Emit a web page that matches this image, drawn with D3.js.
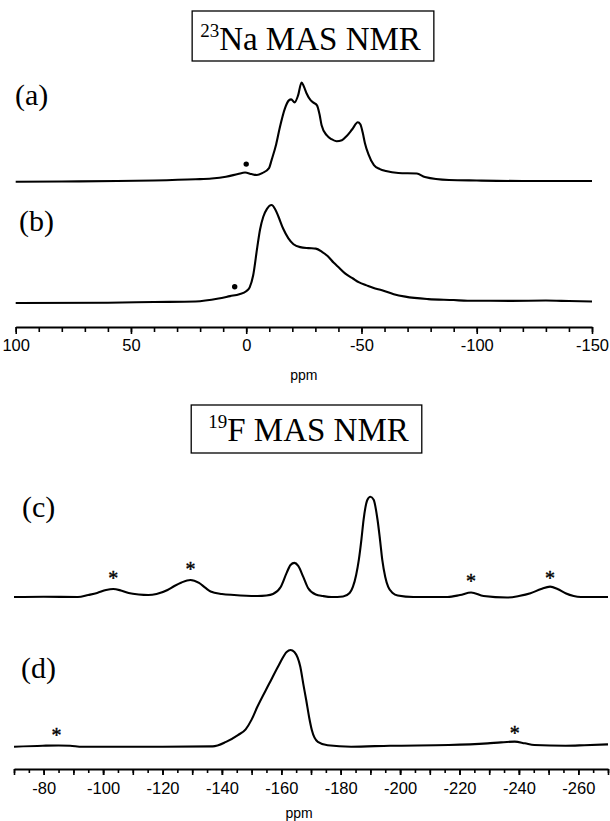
<!DOCTYPE html>
<html><head><meta charset="utf-8">
<script src="https://cdn.jsdelivr.net/npm/d3@7/dist/d3.min.js"></script>
<style>
html,body{margin:0;padding:0;background:#fff;}
svg{display:block;}
</style></head>
<body>
<svg id="chart" width="610" height="821"></svg>
<script>
// ---------- DATA ----------
// 23Na spectra: [ppm, relative intensity]
const spectrumA = [
 [100,0.3],[80,0.5],[56,1],[40,1.5],[22,2.7],[15,3.5],[8.8,5.3],[3.6,8],[0.5,9.5],[-2.3,8],[-4.6,7],
 [-7,9],[-9.9,14],[-11,22],[-13,38],[-14.6,55],[-16.8,74],[-18.5,82],[-19.5,83],[-21,80],[-22.5,87],
 [-24,100],[-25,96],[-26.2,89],[-28,82],[-29,80],[-30.7,77],[-31.8,68],[-32.7,57],[-34.9,47],[-37,43],
 [-39.2,41],[-41.5,42],[-43.5,46],[-46,53],[-48.4,60],[-49.5,58],[-50.5,50],[-51.5,39],[-53,28],
 [-55.4,17],[-58,13],[-60.6,11],[-66,9],[-74,8.5],[-77.5,5],[-88,2],[-100,1.5],[-120,1],[-150,1]
];
const spectrumB = [
 [100,0],[60,0.3],[40,1],[22,1.5],[12,4.5],[7,7],[3,9],[0,12],[-1.5,16],[-3,28],[-4.8,57],[-6,75],
 [-7.4,88],[-9,96],[-11,100],[-12.5,96],[-14,88],[-16,76],[-18.3,66],[-20.5,60],[-23.4,57],[-27,56],
 [-30.2,55.5],[-33,52],[-35.3,48],[-38,41],[-40.3,36],[-43,30],[-46.3,25],[-49,21],[-52.2,18],
 [-55,15.5],[-58.9,13],[-64,9],[-69,6.5],[-79,4],[-90,3],[-96,2.3],[-115,2.2],[-130,2.5],[-140,2],[-150,1.5]
];
// 19F spectra: [ppm, relative intensity]
const spectrumC = [
 [-70,0],[-80,0.3],[-91.5,0],[-95,2],[-98,4],[-101,7],[-103.4,8],[-106,6.5],[-108.6,4],[-112,2.5],
 [-115.2,2],[-118,3],[-121.7,7],[-124,11],[-126.4,14.5],[-129.4,17],[-132.3,14],[-134.5,9],[-136.2,5.5],
 [-140,3],[-144.1,2],[-152,1],[-155,1.5],[-157.2,3],[-159.8,10],[-161.8,24],[-163.1,32],[-164.4,34],
 [-165.7,31],[-167.4,20],[-169,9],[-171.6,2.5],[-174,1],[-176.9,0],[-180.8,0.5],[-183,4],[-184.1,10],
 [-185.2,22],[-186.1,37],[-187,58],[-187.7,77],[-189,97],[-190,100],[-191.1,97],[-192.4,77],[-193.2,58],
 [-194,37],[-195,20],[-196,10],[-197.5,4],[-199.2,1.5],[-204.5,0],[-216,0],[-220.2,2],[-223.9,4.5],
 [-228.1,1],[-236,-0.5],[-240,1],[-243.9,3.7],[-247.5,8],[-250.5,10.3],[-253,8],[-255.7,3.7],[-260.9,0],[-270,0]
];
const spectrumD = [
 [-70,0],[-79.7,1],[-85,1.3],[-88.9,1],[-93,0],[-105,0],[-120,0],[-136.9,0.3],[-141.4,5],[-145.4,12],
 [-148,18],[-150,28],[-151.9,41],[-155.9,65],[-159.2,84.5],[-161.8,98],[-163.1,100],[-164.4,98],
 [-165.5,92],[-166.4,82.7],[-167.4,65],[-168.4,48],[-169.4,30],[-170.3,17],[-172.3,5],[-175.6,1.5],
 [-183.5,0],[-196.6,1],[-216.4,1.7],[-229.5,3.4],[-234,4.5],[-238.6,5.2],[-242,3.5],[-245.2,1.7],
 [-255.7,1],[-262,1.5],[-270,2.4]
];
// markers [ppm, intensity]
const dotsA = [[0,18]];
const dotsB = [[5,16.6]];
const starsC = [[-103.4,22],[-129.4,31],[-223.9,19],[-250.5,22]];
const starsD = [[-84.3,15.5],[-238.6,17]];
// axis ticks
const naMinorTicks = d3.range(100, -151, -10);
const naLabelTicks = [100, 50, 0, -50, -100, -150];
const fMinorTicks = d3.range(-70, -271, -5);
const fMajorTicks = d3.range(-70, -271, -10);
const fLabelTicks = [-80, -100, -120, -140, -160, -180, -200, -220, -240, -260];
const panelLabels = ["(a)", "(b)", "(c)", "(d)"];
const titles = [{sup:"23", main:"Na MAS NMR"}, {sup:"19", main:"F MAS NMR"}];

// ---------- LAYOUT ----------
const svg = d3.select("#chart");
svg.append("rect").attr("width",610).attr("height",821).attr("fill","#fff");

const xNa = d3.scaleLinear().domain([100, -150]).range([15.7, 592]);
const xF  = d3.scaleLinear().domain([-70, -270]).range([14, 608]);

const yA = d3.scaleLinear().domain([0,100]).range([182, 82.5]);
const yB = d3.scaleLinear().domain([0,100]).range([303, 205]);
const yC = d3.scaleLinear().domain([0,100]).range([597, 496.7]);
const yD = d3.scaleLinear().domain([0,100]).range([746.7, 650]);

const serif = "'Liberation Serif','Times New Roman',Times,serif";
const sans = "'Liberation Sans',Arial,Helvetica,sans-serif";
const fmt = d => String(d);   // plain hyphen-minus like the original

function drawSpectrum(data, x, y){
  const line = d3.line().x(d=>x(d[0])).y(d=>y(d[1])).curve(d3.curveMonotoneX);
  svg.append("path").datum(data).attr("d", line)
    .attr("fill","none").attr("stroke","#000").attr("stroke-width",2.1)
    .attr("stroke-linejoin","round");
}
drawSpectrum(spectrumA, xNa, yA);
drawSpectrum(spectrumB, xNa, yB);
drawSpectrum(spectrumC, xF, yC);
drawSpectrum(spectrumD, xF, yD);

// dots
[[dotsA,yA],[dotsB,yB]].forEach(([arr,y])=>{
  svg.selectAll(null).data(arr).enter().append("circle")
    .attr("cx",d=>xNa(d[0])).attr("cy",d=>y(d[1])).attr("r",2.7).attr("fill","#000");
});
// asterisks
[[starsC,yC],[starsD,yD]].forEach(([arr,y])=>{
  svg.selectAll(null).data(arr).enter().append("text")
    .attr("x",d=>xF(d[0])).attr("y",d=>y(d[1])+10)
    .attr("text-anchor","middle").attr("font-family",serif).attr("font-size",20)
    .attr("stroke","#000").attr("stroke-width",0.4)
    .text("*");
});

// panel labels
const labelPos = [[15,105],[19,231],[22,517],[21,678]];
panelLabels.forEach((t,i)=>{
  svg.append("text").attr("x",labelPos[i][0]).attr("y",labelPos[i][1])
    .attr("font-family",serif).attr("font-size",30).text(t);
});

// title boxes
const titlePos = [{cx:310.5, base:50, top:11, bottom:61, padL:8, padR:13},
                  {cx:308.5, base:441, top:405, bottom:453, padL:17, padR:13}];
titles.forEach((t,i)=>{
  const p = titlePos[i];
  const g = svg.append("g");
  const txt = g.append("text").attr("x",p.cx).attr("y",p.base)
    .attr("text-anchor","middle").attr("font-family",serif).attr("font-size",33);
  txt.append("tspan").attr("font-size",19).attr("dy",-13).text(t.sup);
  txt.append("tspan").attr("dy",13).text(t.main);
  const bb = txt.node().getBBox();
  g.append("rect").attr("x",bb.x - p.padL).attr("y",p.top)
    .attr("width",bb.width + p.padL + p.padR).attr("height",p.bottom-p.top)
    .attr("fill","none").attr("stroke","#000").attr("stroke-width",1.3);
});

// axes
function styleAxis(g){
  g.select(".domain").attr("stroke-width",2);
  g.selectAll(".tick line").attr("stroke-width",1.6);
  g.selectAll("text").attr("font-family",sans).attr("font-size",16.5).attr("fill","#000");
}
// Na axis
const naY = 327;
svg.append("g").attr("transform",`translate(0,${naY})`)
  .call(d3.axisBottom(xNa).tickValues(naMinorTicks).tickSize(5).tickSizeOuter(0).tickFormat(""))
  .call(styleAxis);
svg.append("g").attr("transform",`translate(0,${naY})`)
  .call(d3.axisBottom(xNa).tickValues(naLabelTicks).tickSize(7).tickSizeOuter(0).tickPadding(5).tickFormat(fmt))
  .call(styleAxis)
  .call(g=>g.select(".domain").remove());
svg.append("text").attr("x",xNa(-25)).attr("y",380).attr("text-anchor","middle")
  .attr("font-family",sans).attr("font-size",14).text("ppm");

// F axis
const fY = 769;
svg.append("g").attr("transform",`translate(0,${fY})`)
  .call(d3.axisBottom(xF).tickValues(fMinorTicks).tickSize(4).tickSizeOuter(0).tickFormat(""))
  .call(styleAxis);
svg.append("g").attr("transform",`translate(0,${fY})`)
  .call(d3.axisBottom(xF).tickValues(fMajorTicks).tickSize(6).tickSizeOuter(0).tickFormat(""))
  .call(styleAxis).call(g=>g.select(".domain").remove());
svg.append("g").attr("transform",`translate(0,${fY})`)
  .call(d3.axisBottom(xF).tickValues(fLabelTicks).tickSize(6).tickSizeOuter(0).tickPadding(7).tickFormat(fmt))
  .call(styleAxis).call(g=>g.select(".domain").remove());
svg.append("text").attr("x",xF(-166)).attr("y",818).attr("text-anchor","middle")
  .attr("font-family",sans).attr("font-size",14).text("ppm");
</script>
</body></html>
